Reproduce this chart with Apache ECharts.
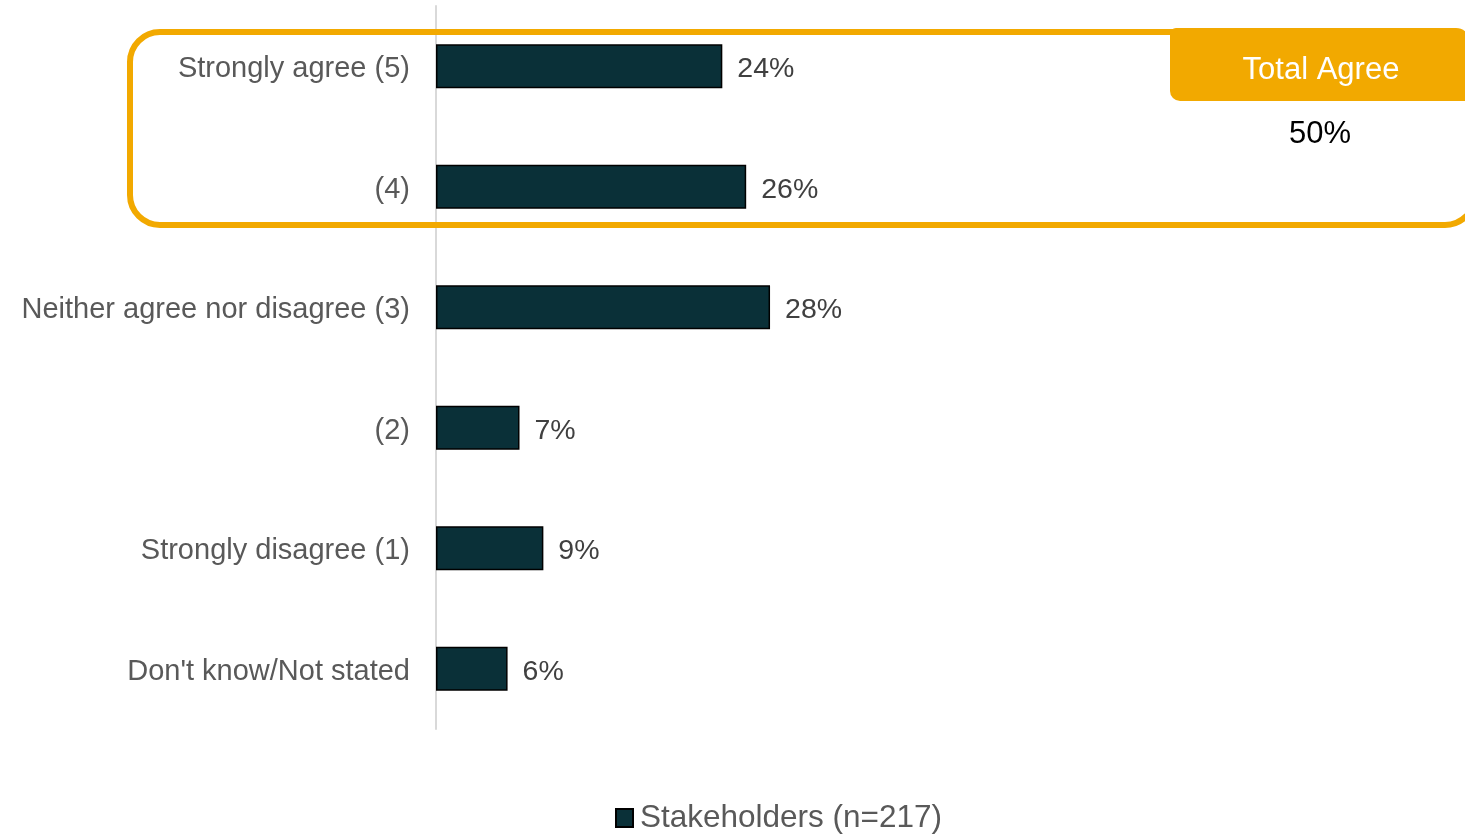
<!DOCTYPE html>
<html>
<head>
<meta charset="utf-8">
<script src="https://cdn.jsdelivr.net/npm/echarts@6/dist/echarts.min.js"></script>
<style>
  html, body { margin: 0; padding: 0; background: #fff; }
  #chart { width: 1465px; height: 835px; }
</style>
</head>
<body>
<div id="chart"></div>
<script>
// Survey response categories (top to bottom)
const categories = [
  'Strongly agree (5)',
  '(4)',
  'Neither agree nor disagree (3)',
  '(2)',
  'Strongly disagree (1)',
  "Don't know/Not stated"
];
// Share of stakeholders giving each response (%)
const stakeholderValues = [24, 26, 28, 7, 9, 6];
const seriesName = 'Stakeholders (n=217)';
const highlightTitle = 'Total Agree';
// Total agree = strongly agree + (4)
const totalAgree = stakeholderValues[0] + stakeholderValues[1];

const FONT = "'Liberation Sans', Arial, sans-serif";
const ORANGE = '#f2a900';

const chart = echarts.init(document.getElementById('chart'));
chart.setOption({
  backgroundColor: '#ffffff',
  animation: false,
  grid: {
    left: 436, top: 6, right: 3, height: 723,
    containLabel: false, outerBoundsMode: 'none'
  },
  xAxis: {
    type: 'value', min: 0, max: 86,
    show: false
  },
  yAxis: {
    type: 'category',
    data: categories,
    inverse: true,
    axisLine: { show: true, lineStyle: { color: '#d9d9d9', width: 2 } },
    axisTick: { show: false },
    axisLabel: {
      color: '#595959', fontFamily: FONT, fontSize: 29, margin: 26,
      formatter: v => '{t|' + v + '}',
      rich: { t: { color: '#595959', fontFamily: FONT, fontSize: 29, padding: [6, 0, 0, 0] } }
    },
    splitLine: { show: false }
  },
  legend: {
    top: 802, left: 615, padding: 0,
    itemWidth: 17, itemHeight: 18, itemGap: 8,
    icon: 'rect',
    textStyle: { color: '#595959', fontFamily: FONT, fontSize: 31.5, padding: [0, 0, 0, 2] },
    data: [seriesName]
  },
  graphic: [
    {
      type: 'rect', z: 10, silent: true,
      shape: { x: 130, y: 32, width: 1345, height: 193, r: 30 },
      style: { fill: 'none', stroke: ORANGE, lineWidth: 6 }
    },
    {
      type: 'rect', z: 11, silent: true,
      shape: { x: 1170, y: 28, width: 300, height: 73, r: [6, 14, 0, 10] },
      style: { fill: ORANGE }
    },
    {
      type: 'text', z: 12, silent: true,
      x: 1321, y: 70,
      style: {
        text: highlightTitle, fill: '#ffffff', fontFamily: FONT, fontSize: 31,
        textAlign: 'center', textVerticalAlign: 'middle'
      }
    },
    {
      type: 'text', z: 12, silent: true,
      x: 1320, y: 134,
      style: {
        text: totalAgree + '%', fill: '#000000', fontFamily: FONT, fontSize: 31,
        textAlign: 'center', textVerticalAlign: 'middle'
      }
    }
  ],
  series: [{
    name: seriesName,
    type: 'bar',
    data: stakeholderValues,
    barWidth: 44,
    itemStyle: { color: '#0a3038', borderColor: '#000000', borderWidth: 1.5 },
    label: {
      show: true, position: 'right', distance: 15, offset: [0, 3],
      formatter: '{c}%',
      color: '#404040', fontFamily: FONT, fontSize: 28.5
    }
  }]
});
</script>
</body>
</html>
